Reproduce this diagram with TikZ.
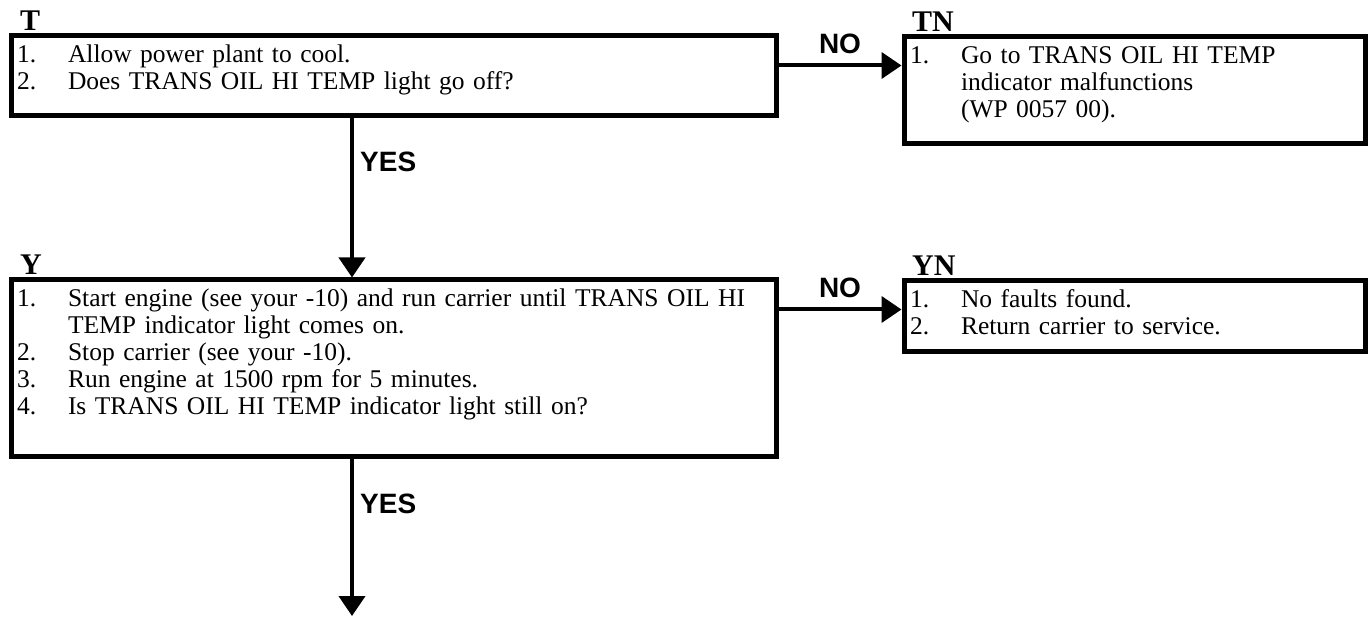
\documentclass[tikz,border=0pt]{standalone}
\usepackage{fontspec}
\setmainfont{Liberation Serif}
\newfontfamily\armsans{Liberation Sans}
\usetikzlibrary{arrows.meta,calc}

% one numbered line of a step box, hanging under its text
\newcommand{\listline}[2]{\lineskiplimit=-30pt\rightskip=0pt plus 1fil\relax
  \hangindent=51pt\hangafter=1\noindent
  \rule{0pt}{21pt}\makebox[51pt][l]{#1}#2\par}

\begin{document}
\begin{tikzpicture}[x=1pt,y=-1pt,
box/.style={draw,line width=5pt,anchor=north west,inner xsep=6pt,inner ysep=6pt,
  text height=21pt,font=\fontsize{25.5}{27}\selectfont},
tag/.style={anchor=base west,inner sep=0pt,font=\bfseries\fontsize{30}{30}\selectfont},
ans/.style={inner sep=0pt,font=\armsans\bfseries\fontsize{28}{28}\selectfont},
arr/.style={line width=4pt,-{Triangle[length=20pt,width=26pt]}}]
\useasboundingbox (0,0) rectangle (1370,617);

\node[box,text width=753pt,text depth=47pt] (T) at (8.5,33.5)
  {\listline{1.}{Allow power plant to cool.}%
   \listline{2.}{Does TRANS OIL HI TEMP light go off?}};
\node[box,text width=449pt,text depth=74pt] (TN) at (901.5,34.5)
  {\listline{1.}{Go to TRANS OIL HI TEMP\newline indicator malfunctions\newline (WP 0057 00).}};
\node[box,text width=753pt,text depth=143pt] (Y) at (8.5,277.5)
  {\listline{1.}{Start engine (see your -10) and run carrier until TRANS OIL HI\newline TEMP indicator light comes on.}%
   \listline{2.}{Stop carrier (see your -10).}%
   \listline{3.}{Run engine at 1500 rpm for 5 minutes.}%
   \listline{4.}{Is TRANS OIL HI TEMP indicator light still on?}};
\node[box,text width=449pt,text depth=38pt] (YN) at (901.5,278.5)
  {\listline{1.}{No faults found.}%
   \listline{2.}{Return carrier to service.}};

\node[tag] (tT) at (20,31) {T};
\node[tag] (tTN) at (912,32) {TN};
\node[tag] (tY) at (20,275) {Y};
\node[tag] (tYN) at (912,276) {YN};

\coordinate (trunk) at (352,0);
\coordinate (out) at (352,616);

\draw[arr] ([yshift=-32pt]T.north east) -- ([yshift=-32pt]T.north east -| TN.west)
  node[ans,midway,above=10pt] (no1) {NO};
\draw[arr] ([yshift=-32pt]Y.north east) -- ([yshift=-32pt]Y.north east -| YN.west)
  node[ans,midway,above=10pt] (no2) {NO};
\draw[arr] (T.south -| trunk) -- (Y.north -| trunk);
\draw[arr] (Y.south -| trunk) -- (out);
\node[ans,anchor=base west] (yes1) at (360,172) {YES};
\node[ans,anchor=base west] (yes2) at (360,513) {YES};
\end{tikzpicture}
\end{document}
